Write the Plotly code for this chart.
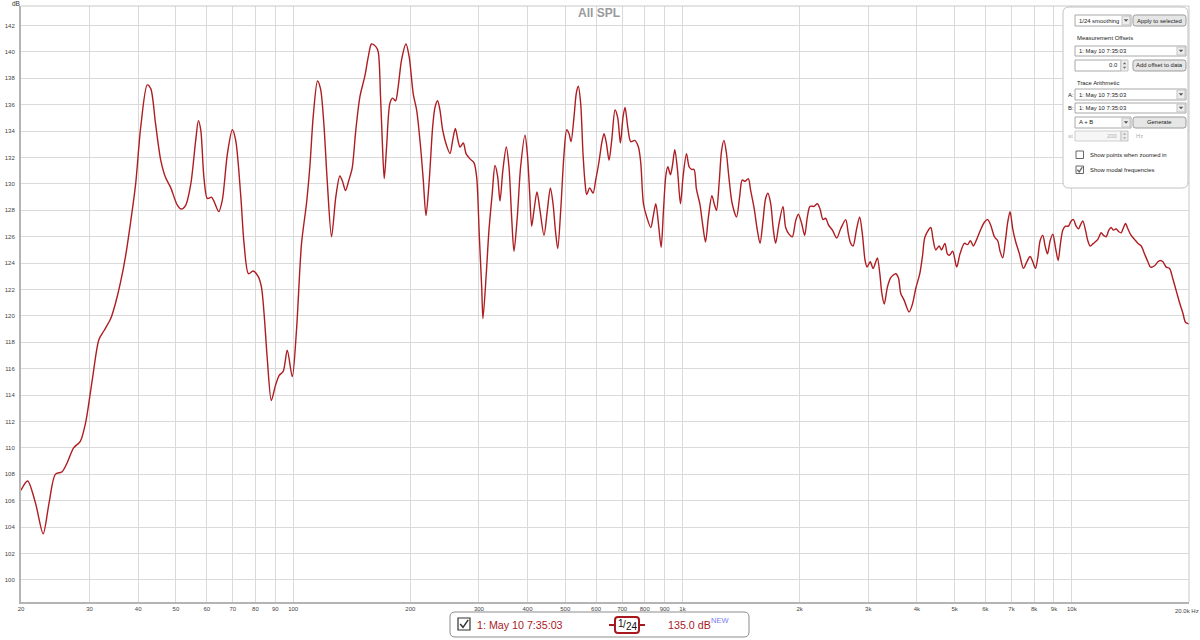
import math
import plotly.graph_objects as go

# ---------------- data ----------------
freq_hz = [
    20.0, 20.8, 21.8, 22.8, 23.6, 24.5, 25.5, 26.3, 27.3, 28.4, 29.3, 30.5, 31.7, 32.7, 34.0,
    35.0, 36.0, 37.1, 38.2, 39.4, 40.6, 42.2, 43.1, 44.3, 45.7, 47.0, 48.5, 50.4, 51.6, 53.0,
    54.6, 56.2, 57.1, 57.9, 59.0, 60.2, 61.7, 62.6, 64.4, 65.8, 67.8, 69.8, 71.2, 73.4, 74.8,
    76.8, 78.9, 81.3, 82.9, 84.3, 85.8, 87.9, 90.0, 92.1, 94.3, 96.6, 99.5, 102.0, 105.1, 108.2,
    110.4, 112.6, 115.5, 117.6, 119.9, 122.3, 125.5, 128.7, 131.8, 133.9, 136.3, 139.1, 141.8, 144.9, 148.4,
    152.9, 155.9, 159.0, 163.1, 165.4, 167.7, 169.4, 171.4, 173.8, 177.2, 180.1, 183.3, 186.2, 189.9, 194.9,
    198.7, 203.5, 207.6, 212.5, 215.9, 219.4, 223.7, 228.2, 231.4, 235.0, 238.3, 242.1, 247.9, 252.9, 256.9,
    261.0, 265.1, 268.3, 273.6, 278.0, 284.6, 291.5, 296.1, 300.8, 305.0, 307.3, 313.4, 318.4, 324.7, 329.9,
    335.1, 339.8, 345.9, 352.8, 358.4, 364.1, 369.2, 376.5, 384.0, 394.0, 399.5, 405.1, 409.9, 415.6, 423.0,
    430.6, 440.9, 449.7, 457.8, 465.1, 471.6, 478.2, 486.7, 496.4, 504.3, 511.3, 517.4, 526.6, 533.9, 540.2,
    547.7, 555.3, 562.0, 567.5, 577.7, 589.3, 598.6, 610.6, 620.3, 628.9, 637.6, 647.8, 658.1, 671.2, 681.9,
    692.8, 703.8, 712.2, 723.6, 736.5, 754.1, 770.6, 781.4, 793.9, 809.6, 829.1, 840.5, 854.1, 867.5, 881.4,
    893.8, 906.1, 917.0, 931.4, 942.5, 955.6, 970.8, 988.2, 1004, 1024, 1040, 1055, 1071, 1086, 1108,
    1126, 1146, 1166, 1190, 1209, 1223, 1243, 1260, 1278, 1296, 1316, 1342, 1377, 1402, 1424,
    1447, 1476, 1497, 1527, 1557, 1582, 1610, 1635, 1658, 1685, 1712, 1735, 1770, 1812, 1841,
    1878, 1915, 1953, 1984, 2024, 2060, 2093, 2126, 2177, 2221, 2256, 2296, 2333, 2371, 2428,
    2490, 2549, 2626, 2668, 2705, 2743, 2797, 2852, 2898, 2945, 2980, 3036, 3087, 3137, 3168,
    3213, 3252, 3298, 3361, 3428, 3530, 3586, 3637, 3709, 3821, 3897, 3975, 4070, 4134, 4198,
    4343, 4402, 4474, 4564, 4627, 4722, 4790, 4846, 4944, 5062, 5162, 5297, 5402, 5489, 5587,
    5698, 5846, 5963, 6082, 6203, 6327, 6453, 6543, 6646, 6752, 6846, 6941, 7051, 7164, 7337,
    7513, 7663, 7816, 7940, 8065, 8177, 8291, 8424, 8541, 8660, 8797, 8937, 9078, 9224, 9352,
    9481, 9632, 9805, 9961, 10099, 10260, 10403, 10526, 10673, 10842, 10993, 11146, 11369, 11665, 11897,
    12063, 12255, 12450, 12623, 12798, 13002, 13183, 13393, 13579, 13741, 13932, 14209, 14492, 14781, 15076,
    15376, 15683, 15933, 16314, 16639, 16871, 17140, 17482, 17830, 18185, 18547, 18917, 19294, 19604, 20000,
]
spl_db = [
    106.8, 107.5, 105.8, 103.5, 105.8, 108.0, 108.2, 108.9, 110.0, 110.5, 111.9, 115.2, 118.2, 118.9, 119.8,
    121.0, 122.5, 124.5, 127.0, 130.0, 134.3, 137.5, 137.2, 134.6, 131.8, 130.5, 129.7, 128.4, 128.1, 128.4,
    130.0, 133.3, 134.8, 134.1, 130.5, 128.9, 129.0, 128.7, 127.9, 128.8, 132.3, 134.1, 133.3, 129.0, 125.5,
    123.2, 123.4, 123.0, 122.2, 120.0, 116.8, 113.6, 114.7, 115.5, 115.8, 117.4, 115.4, 118.9, 125.5, 128.5,
    131.3, 135.1, 137.8, 137.2, 134.6, 130.3, 126.0, 129.0, 130.6, 130.2, 129.5, 130.3, 131.2, 134.1, 136.6,
    138.2, 139.6, 140.6, 140.4, 140.0, 136.6, 133.3, 130.4, 132.8, 136.1, 136.5, 136.3, 137.4, 139.4, 140.6,
    139.6, 136.8, 135.6, 132.8, 130.3, 127.6, 130.3, 134.3, 135.8, 136.3, 135.6, 134.1, 132.9, 132.3, 133.3,
    134.2, 133.3, 132.8, 133.1, 132.3, 131.9, 131.6, 130.5, 126.0, 122.2, 119.8, 123.2, 126.5, 129.3, 131.4,
    130.6, 128.7, 131.1, 132.8, 131.3, 127.5, 124.9, 127.5, 131.3, 133.7, 132.3, 129.3, 126.8, 128.0, 129.4,
    128.0, 126.1, 128.0, 129.7, 128.5, 126.5, 125.1, 128.0, 132.3, 134.1, 133.8, 133.2, 135.1, 136.9, 137.4,
    136.1, 132.3, 130.1, 129.2, 129.7, 129.3, 130.3, 131.7, 133.1, 133.8, 133.1, 131.8, 133.3, 135.6, 135.0,
    133.1, 135.1, 135.8, 134.3, 133.2, 133.3, 132.8, 131.6, 128.5, 127.5, 126.7, 127.5, 128.5, 127.0, 125.2,
    128.0, 130.6, 131.3, 130.7, 131.4, 132.6, 131.1, 128.5, 130.6, 132.3, 131.3, 131.1, 131.1, 129.6, 128.5,
    127.0, 125.6, 127.5, 129.1, 128.4, 128.0, 130.2, 132.5, 133.3, 132.4, 130.5, 128.5, 127.5, 129.0, 130.3,
    130.2, 130.4, 129.5, 128.2, 126.5, 125.5, 127.2, 128.9, 129.3, 128.5, 126.5, 125.5, 127.0, 128.3, 126.7,
    126.2, 126.0, 127.2, 127.7, 127.0, 126.1, 127.5, 128.3, 128.3, 128.5, 128.1, 127.3, 127.4, 126.9, 126.5,
    125.9, 126.6, 127.3, 126.2, 125.5, 125.3, 126.5, 127.5, 126.2, 124.2, 123.7, 124.1, 123.6, 124.1, 124.4,
    123.2, 121.7, 120.9, 122.2, 122.9, 123.2, 122.9, 121.7, 121.2, 120.3, 120.9, 122.1, 123.2, 124.5, 126.0,
    126.7, 125.8, 125.0, 125.3, 125.0, 125.5, 124.7, 124.6, 124.9, 123.7, 124.7, 125.5, 125.4, 125.7, 125.3,
    125.8, 126.6, 127.1, 127.3, 126.8, 126.0, 125.7, 124.9, 124.4, 125.7, 127.1, 127.9, 126.6, 125.7, 124.7,
    123.6, 124.1, 124.5, 124.1, 123.6, 124.4, 125.7, 126.1, 125.3, 124.7, 125.7, 126.2, 125.2, 124.2, 125.5,
    126.5, 126.8, 126.8, 127.2, 127.3, 126.8, 126.6, 126.9, 127.2, 126.5, 125.7, 125.3, 125.5, 125.8, 126.3,
    126.1, 126.0, 126.5, 126.7, 126.5, 126.6, 126.4, 126.3, 126.7, 127.0, 126.6, 126.1, 125.8, 125.5, 125.3,
    124.7, 124.1, 123.7, 123.8, 124.1, 124.2, 124.1, 123.7, 123.6, 122.8, 121.9, 121.0, 120.2, 119.5, 119.4,
]
x_tick_vals = [20, 30, 40, 50, 60, 70, 80, 90, 100, 200, 300, 400, 500, 600, 700, 800, 900,
               1000, 2000, 3000, 4000, 5000, 6000, 7000, 8000, 9000, 10000, 20000]
x_tick_text = ["20", "30", "40", "50", "60", "70", "80", "90", "100", "200", "300", "400", "500",
               "600", "700", "800", "900", "1k", "2k", "3k", "4k", "5k", "6k", "7k", "8k", "9k",
               "10k", "20.0k Hz"]
y_tick_vals = list(range(100, 143, 2))

title_text = "All SPL"
trace_name = "1: May 10 7:35:03"
legend_level = "135.0 dB"

# ---------------- layout helpers ----------------
W, H = 1200, 640
PL, PR, PT, PB = 21, 1189, 6, 602
FONT = "Liberation Sans, Arial, sans-serif"
RED = "#a8191f"
PANEL_FS = 5.9


def X(p):
    return (p - PL) / (PR - PL)


def Y(p):
    return (PB - p) / (PB - PT)


def f(v):
    return f"{v:.5f}"


shapes = []
annotations = []


def rrect(x0, y0, x1, y1, r, fill, line, lw=1):
    d = (f"M {f(X(x0 + r))},{f(Y(y0))} L {f(X(x1 - r))},{f(Y(y0))} "
         f"Q {f(X(x1))},{f(Y(y0))} {f(X(x1))},{f(Y(y0 + r))} "
         f"L {f(X(x1))},{f(Y(y1 - r))} Q {f(X(x1))},{f(Y(y1))} {f(X(x1 - r))},{f(Y(y1))} "
         f"L {f(X(x0 + r))},{f(Y(y1))} Q {f(X(x0))},{f(Y(y1))} {f(X(x0))},{f(Y(y1 - r))} "
         f"L {f(X(x0))},{f(Y(y0 + r))} Q {f(X(x0))},{f(Y(y0))} {f(X(x0 + r))},{f(Y(y0))} Z")
    shapes.append(dict(type="path", xref="paper", yref="paper", path=d, fillcolor=fill,
                       line=dict(color=line, width=lw), layer="above"))


def rect(x0, y0, x1, y1, fill, line, lw=1):
    shapes.append(dict(type="rect", xref="paper", yref="paper", x0=X(x0), x1=X(x1),
                       y0=Y(y1), y1=Y(y0), fillcolor=fill,
                       line=dict(color=line, width=lw), layer="above"))


def seg(x0, y0, x1, y1, color, lw=1):
    shapes.append(dict(type="line", xref="paper", yref="paper", x0=X(x0), x1=X(x1),
                       y0=Y(y0), y1=Y(y1), line=dict(color=color, width=lw), layer="above"))


def tri(cx, cy, w, h, color, up=False):
    if up:
        pts = [(cx - w / 2, cy + h / 2), (cx + w / 2, cy + h / 2), (cx, cy - h / 2)]
    else:
        pts = [(cx - w / 2, cy - h / 2), (cx + w / 2, cy - h / 2), (cx, cy + h / 2)]
    d = "M " + " L ".join(f"{f(X(a))},{f(Y(b))}" for a, b in pts) + " Z"
    shapes.append(dict(type="path", xref="paper", yref="paper", path=d, fillcolor=color,
                       line=dict(color=color, width=0), layer="above"))


def text(x, y, s, size=PANEL_FS, color="#222", anchor="left", bold=False, family=FONT):
    if bold:
        s = f"<b>{s}</b>"
    annotations.append(dict(xref="paper", yref="paper", x=X(x), y=Y(y), text=s,
                            showarrow=False, xanchor=anchor, yanchor="middle",
                            font=dict(size=size, color=color, family=family)))


def dropdown(x0, y0, x1, y1, label, color="#222"):
    rect(x0, y0, x1, y1, "#ffffff", "#a8a8a8")
    rect(x1 - 9, y0 + 1, x1 - 1, y1 - 1, "#ececec", "#c4c4c4")
    tri(x1 - 5, (y0 + y1) / 2, 4.5, 2.6, "#555")
    text(x0 + 2, (y0 + y1) / 2, label, color=color)


def button(x0, y0, x1, y1, label):
    rrect(x0, y0, x1, y1, 2.5, "#e6e6e6", "#9a9a9a")
    text((x0 + x1) / 2, (y0 + y1) / 2, label, anchor="center")


def spinner(x0, y0, x1, y1, color="#666"):
    rect(x0, y0, x1, y1, "#ececec", "#c4c4c4")
    ym = (y0 + y1) / 2
    tri((x0 + x1) / 2, ym - 2.2, 3.5, 2.0, color, up=True)
    tri((x0 + x1) / 2, ym + 2.2, 3.5, 2.0, color)


def checkbox(x0, y0, size, checked, color="#444", lw=1):
    rect(x0, y0, x0 + size, y0 + size, "#ffffff", color, lw)
    if checked:
        s = size
        d = (f"M {f(X(x0 + 0.18 * s))},{f(Y(y0 + 0.5 * s))} L {f(X(x0 + 0.42 * s))},{f(Y(y0 + 0.78 * s))} "
             f"L {f(X(x0 + 0.85 * s))},{f(Y(y0 + 0.15 * s))}")
        shapes.append(dict(type="path", xref="paper", yref="paper", path=d,
                           line=dict(color=color, width=lw + 0.3), layer="above"))


# ---------------- plot frame (top/right border) ----------------
seg(PL, PT, PR, PT, "#c8c8c8", 1)
seg(PR, PT, PR, PB, "#c8c8c8", 1)

# ---------------- control panel (top right) ----------------
rrect(1063, 7, 1188, 188, 6, "#ffffff", "#c2c2c2", 1)
dropdown(1075, 15, 1131, 26, "1/24 smoothing")
button(1133, 15, 1186, 26, "Apply to selected")
text(1075, 38, "Measurement Offsets")
dropdown(1075, 46, 1186, 56, trace_name)
rect(1075, 60, 1121, 71, "#ffffff", "#a8a8a8")
text(1120, 65.5, "0.0", anchor="right")
spinner(1121, 60, 1128, 71)
button(1133, 60, 1186, 71, "Add offset to data")
text(1075, 83, "Trace Arithmetic")
text(1066, 95, "A:")
dropdown(1075, 89, 1186, 100, trace_name)
text(1066, 108, "B:")
dropdown(1075, 103, 1186, 113, trace_name)
dropdown(1075, 117, 1131, 128, "A + B")
button(1133, 117, 1186, 128, "Generate")
text(1066, 136, "at", color="#b8b8b8")
rect(1075, 131, 1121, 141, "#f6f6f6", "#cfcfcf")
text(1120, 136, "200", color="#b0b0b0", anchor="right")
spinner(1121, 131, 1128, 141, color="#aaa")
text(1134, 136, "Hz", color="#b0b0b0")
checkbox(1076, 151, 7.5, False, color="#666")
text(1088, 155, "Show points when zoomed in")
checkbox(1076, 166, 7.5, True, color="#666")
text(1088, 170, "Show modal frequencies")

# ---------------- bottom legend ----------------
rrect(450, 612, 749, 637, 5, "#ffffff", "#8c8c8c", 1)
checkbox(458, 618, 12, True, color="#333", lw=1.2)
text(475, 625, trace_name, size=10.7, color=RED)
seg(609, 625, 645, 625, RED, 2)
rrect(615, 617, 639, 633, 3, "#ffffff", RED, 2)
text(621, 623.5, "1", size=10, color="#111", anchor="center")
text(624.5, 624.5, "/", size=10, color="#111", anchor="center")
text(631.5, 626.5, "24", size=10, color="#111", anchor="center")
text(666, 625, legend_level, size=10.7, color=RED)
text(709, 620, "NEW", size=7.5, color="#7b7bf0")

# ---------------- titles ----------------
text(599, 13, title_text, size=12, color="#9a9a9a", anchor="center", bold=True)
text(10, 4, "dB", size=6.5, color="#333")

# ---------------- figure ----------------
fig = go.Figure()
fig.add_trace(go.Scatter(
    x=freq_hz, y=spl_db, mode="lines",
    line=dict(color="#ae1d22", width=1.4, shape="spline", smoothing=0.8),
    showlegend=False, hoverinfo="x+y",
))

# the last tick label ("20.0k Hz") sits at the right edge; draw it right-aligned
tick_text_axis = x_tick_text[:-1] + [""]
annotations.append(dict(xref="x", yref="paper", x=math.log10(x_tick_vals[-1]), y=Y(611),
                        text=x_tick_text[-1], showarrow=False, xanchor="center", xshift=-2,
                        yanchor="middle", font=dict(size=6, color="#444", family=FONT)))

fig.update_layout(
    width=W, height=H,
    margin=dict(l=PL, r=W - PR, t=PT, b=H - PB, pad=0, autoexpand=False),
    paper_bgcolor="#ffffff", plot_bgcolor="#ffffff",
    showlegend=False,
    font=dict(family=FONT, size=6, color="#333"),
    xaxis=dict(
        type="log", range=[math.log10(20), math.log10(20000)],
        tickmode="array", tickvals=x_tick_vals, ticktext=tick_text_axis,
        showgrid=True, gridcolor="#dadada", gridwidth=1,
        showline=True, linecolor="#b4b4b4", linewidth=2,
        ticks="", zeroline=False, tickfont=dict(size=6, color="#444", family=FONT),
        fixedrange=True, automargin=False,
    ),
    yaxis=dict(
        range=[98.33, 143.48],
        tickmode="array", tickvals=y_tick_vals,
        showgrid=True, gridcolor="#dadada", gridwidth=1,
        showline=True, linecolor="#b4b4b4", linewidth=2,
        ticks="", zeroline=False, tickfont=dict(size=6, color="#444", family=FONT),
        ticklabelstandoff=3, fixedrange=True, automargin=False,
    ),
    shapes=shapes,
    annotations=annotations,
)

fig.write_html("out.html", config={"displayModeBar": False},
               post_script="document.body.style.margin='0';document.body.style.overflow='hidden';")
